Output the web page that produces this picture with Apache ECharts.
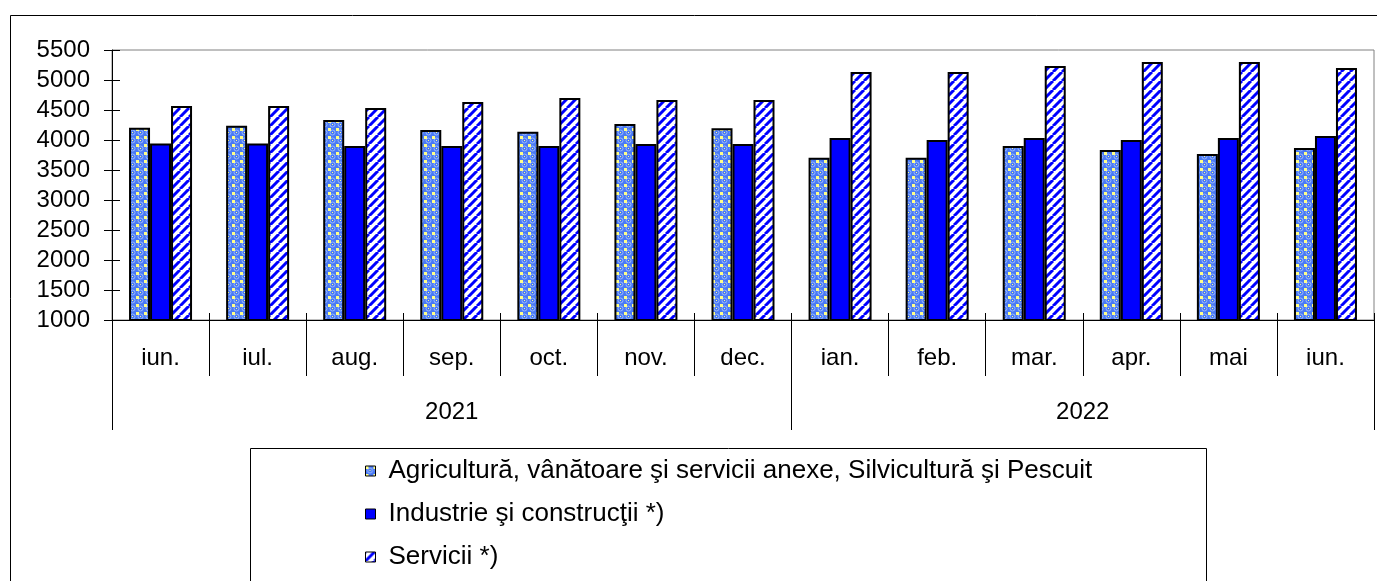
<!DOCTYPE html>
<html>
<head>
<meta charset="utf-8">
<script src="https://cdn.jsdelivr.net/npm/echarts@6/dist/echarts.min.js"></script>
<style>
html,body{margin:0;padding:0;background:#fff;}
#chart{width:1377px;height:581px;}
</style>
</head>
<body>
<div id="chart"></div>
<script>
// ---- data ----
const months = ['iun.','iul.','aug.','sep.','oct.','nov.','dec.','ian.','feb.','mar.','apr.','mai','iun.'];
const years = ['2021','2022'];
const yearSpans = [7, 6];
const seriesNames = [
  'Agricultură, vânătoare şi servicii anexe, Silvicultură şi Pescuit',
  'Industrie şi construcţii *)',
  'Servicii *)'
];
const agri = [4205,4238,4333,4167,4138,4267,4194,3705,3705,3900,3833,3767,3867];
const industrie = [3940,3940,3900,3900,3900,3933,3933,4033,4000,4033,4000,4033,4067];
const servicii = [4567,4567,4533,4633,4700,4667,4667,5133,5133,5233,5300,5300,5200];
const yMin = 1000, yMax = 5500, yStep = 500;

// ---- patterns ----
function agriTile(){
  const c = document.createElement('canvas'); c.width = 8; c.height = 8;
  const g = c.getContext('2d');
  g.fillStyle = '#4a7af4'; g.fillRect(0,0,8,8);
  g.strokeStyle = '#9ab8ff'; g.lineWidth = 1;
  g.beginPath(); g.arc(4.5,4.5,2.5,0,Math.PI*2); g.stroke();
  g.fillStyle = '#ffff88'; g.fillRect(0,0,3,3);
  g.fillRect(4,4,1,1);
  return c;
}
function stripeTile(){
  const c = document.createElement('canvas'); c.width = 9; c.height = 9;
  const g = c.getContext('2d');
  g.fillStyle = '#ffffff'; g.fillRect(0,0,9,9);
  g.strokeStyle = '#0000ff'; g.lineWidth = 3;
  for (const k of [-9,0,9]) { g.beginPath(); g.moveTo(k,9); g.lineTo(k+9,0); g.stroke(); }
  return c;
}
const agriColor = {image: agriTile(), repeat: 'repeat'};
const stripeColor = {image: stripeTile(), repeat: 'repeat'};

// year axis positions
const yearBounds = [0]; yearSpans.forEach(s => yearBounds.push(yearBounds[yearBounds.length-1] + s));
const yearCenters = years.map((_, i) => (yearBounds[i] + yearBounds[i+1]) / 2);

const font = 'Liberation Sans, Arial, sans-serif';
const chart = echarts.init(document.getElementById('chart'), null, {renderer: 'canvas'});

const barCommon = {type: 'bar', barWidth: 21, barGap: '0%', xAxisIndex: 0, yAxisIndex: 0};

chart.setOption({
  animation: false,
  backgroundColor: '#fff',
  textStyle: {fontFamily: font},
  graphic: [
    {type: 'rect', shape: {x: 10.5, y: 15.5, width: 1400, height: 600}, style: {fill: null, stroke: '#000', lineWidth: 1}, z: -1},
    {type: 'rect', shape: {x: 250.5, y: 448.5, width: 956, height: 200}, style: {fill: '#fff', stroke: '#000', lineWidth: 1}, z: -1}
  ],
  grid: {left: 112, right: 3, top: 50, bottom: 261, show: true, borderColor: '#808080', borderWidth: 1, backgroundColor: 'transparent'},
  legend: {
    orient: 'vertical', left: 360, top: 453, itemWidth: 10, itemHeight: 10, itemGap: 17,
    icon: 'rect',
    itemStyle: {borderWidth: 1, borderColor: '#000'},
    textStyle: {fontSize: 26, color: '#000', fontFamily: font, padding: [0,0,0,8]},
    data: seriesNames
  },
  xAxis: [
    {type: 'category', data: months, position: 'bottom',
     axisLine: {show: true, lineStyle: {color: '#000', width: 1}},
     axisTick: {show: true, length: 56, interval: 0, lineStyle: {color: '#000'}},
     axisLabel: {show: true, fontSize: 24, color: '#000', margin: 26, interval: 0, fontFamily: font},
     splitLine: {show: false}},
    {type: 'category', data: months, position: 'bottom',
     axisLine: {show: false},
     axisTick: {show: true, inside: true, length: 7, interval: 0, lineStyle: {color: '#000'}},
     axisLabel: {show: false}},
    {type: 'value', min: 0, max: yearBounds[yearBounds.length-1], position: 'bottom',
     axisLine: {show: false}, splitLine: {show: false},
     axisTick: {show: true, length: 110, customValues: yearBounds, lineStyle: {color: '#000'}},
     axisLabel: {show: true, fontSize: 24, color: '#000', margin: 80, fontFamily: font,
       customValues: yearCenters,
       formatter: v => { const i = yearCenters.indexOf(v); return i >= 0 ? years[i] : ''; }}}
  ],
  yAxis: [
    {type: 'value', min: yMin, max: yMax, interval: yStep, position: 'left',
     axisLine: {show: true, lineStyle: {color: '#000'}},
     axisTick: {show: true, length: 8, lineStyle: {color: '#000'}},
     axisLabel: {fontSize: 24, color: '#000', margin: 22, fontFamily: font, formatter: v => String(v)},
     splitLine: {show: false}},
    {type: 'value', min: yMin, max: yMax, interval: yStep, position: 'left',
     axisLine: {show: false},
     axisTick: {show: true, inside: true, length: 8, lineStyle: {color: '#000'}},
     axisLabel: {show: false}, splitLine: {show: false}}
  ],
  series: [
    Object.assign({}, barCommon, {name: seriesNames[0], data: agri, itemStyle: {color: agriColor, borderColor: '#000', borderWidth: 2}}),
    Object.assign({}, barCommon, {name: seriesNames[1], data: industrie, itemStyle: {color: '#0000ff', borderColor: '#000', borderWidth: 2}}),
    Object.assign({}, barCommon, {name: seriesNames[2], data: servicii, itemStyle: {color: stripeColor, borderColor: '#000', borderWidth: 2}})
  ]
});
</script>
</body>
</html>
